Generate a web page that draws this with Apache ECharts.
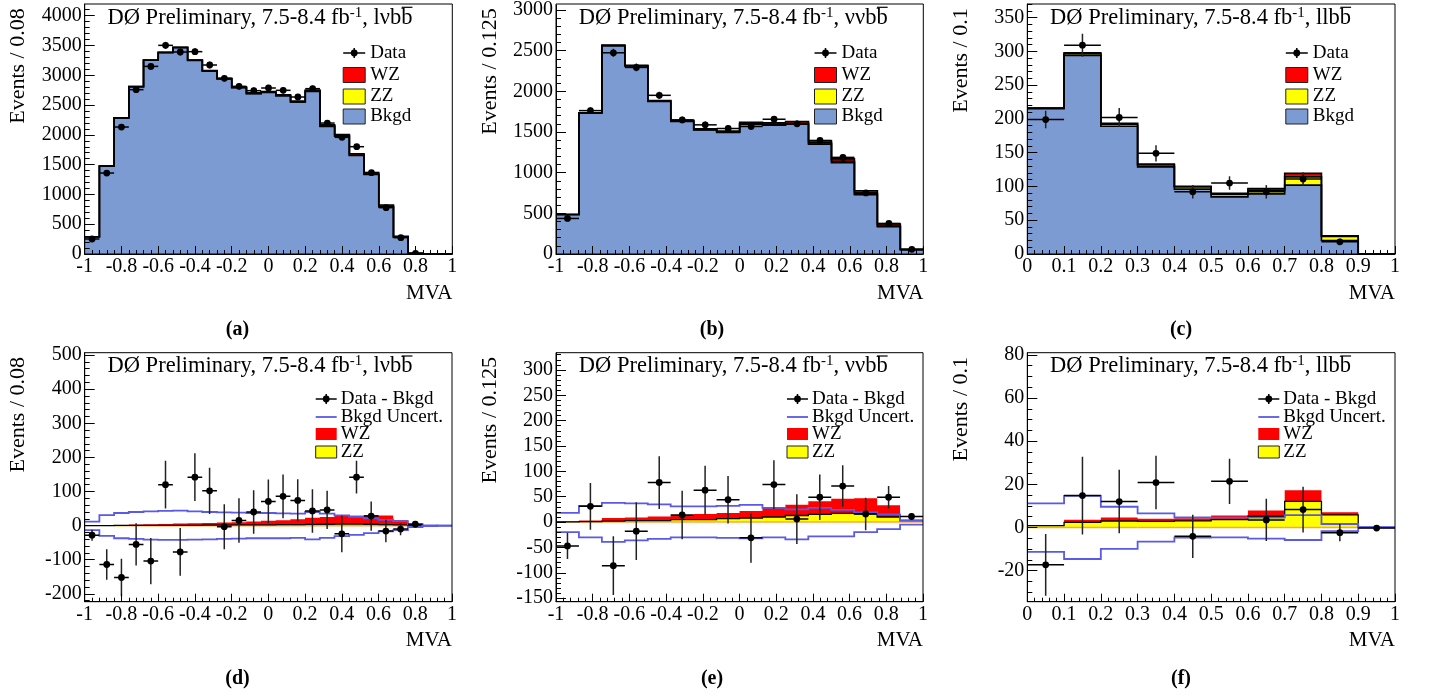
<!DOCTYPE html>
<html><head><meta charset="utf-8">
<script src="https://cdn.jsdelivr.net/npm/echarts@6/dist/echarts.min.js"></script>
<style>html,body{margin:0;padding:0;background:#fff}#c{width:1439px;height:696px}</style>
</head><body><div id="c"></div>
<script>
// ================= DATA =================
// bin edges (categories)
const edgesLvbb = [-1,-0.92,-0.84,-0.76,-0.68,-0.6,-0.52,-0.44,-0.36,-0.28,-0.2,-0.12,-0.04,0.04,0.12,0.2,0.28,0.36,0.44,0.52,0.6,0.68,0.76,0.84,0.92,1];
const edgesVvbb = [-1,-0.875,-0.75,-0.625,-0.5,-0.375,-0.25,-0.125,0,0.125,0.25,0.375,0.5,0.625,0.75,0.875,1];
const edgesLlbb = [0,0.1,0.2,0.3,0.4,0.5,0.6,0.7,0.8,0.9,1];

// l nu b b
const dataLvbb    = [252,1359,2131,2758,3149,3502,3390,3396,3172,2948,2814,2741,2786,2747,2635,2775,2198,1958,1801,1365,778,274,12,null,null];
const dataErrLvbb = [16,37,46,53,56,59,58,58,56,54,53,52,53,52,51,53,47,44,42,37,28,17,4,0,0];
const bkgdLvbb    = [290,1475,2284,2808,3252,3380,3464,3250,3069,2940,2793,2692,2712,2656,2550,2730,2142,1978,1654,1335,793,280,8,0,0];
const zzLvbb      = [0,0,0.5,0.5,1,1,1,1,1.5,1.5,2,2,2.5,3,3,3.5,4,4.5,4.5,4,3,2,0.5,0,0];
const wzLvbb      = [0,0,1.5,2.5,3,4,5,6,6.5,7.5,8,10,11.5,13,16,19.5,21,23.5,24.5,27,27,14,2.5,0,0];
const diffLvbb    = [-28,-114,-152,-55,-104,120,-77,142,102,-3,15,40,71,86,74,43,46,-24,142,28,-16,-10,4,null,null];
const diffErrLvbb = [16,45,55,62,68,70,70,70,68,66,65,64,64,64,62,64,56,54,48,43,33,18,3,0,0];
const uncUpLvbb   = [12,31,37,40,42,43,44,42,40,39,38,37,37,36,35,40,35,30,26,21,17,13,4,1,0];
const uncLoLvbb   = [-13,-30,-37,-39,-41,-42,-42,-41,-40,-39,-38,-37,-37,-37,-36,-40,-36,-31,-27,-22,-17,-13,-4,-1,0];

// nu nu b b
const dataVvbb    = [437,1763,2474,2294,1951,1649,1588,1543,1568,1657,1600,1396,1188,751,376,57];
const dataErrVvbb = [21,42,50,48,44,41,40,39,40,41,40,37,34,27,19,8];
const bkgdVvbb    = [485,1734,2560,2311,1876,1629,1524,1493,1596,1584,1595,1351,1124,730,335,52];
const zzVvbb      = [0.5,1,2,3,3,5,5,7,8,10,13,15,17,16,10,3];
const wzVvbb      = [0.5,2,6,6,8,9,11,11,14,18,21,26,29,31,23,2];
const diffVvbb    = [-47,31,-86,-18,78,14,63,44,-31,74,6,49,71,16,49,11];
const diffErrVvbb = [26,46,58,57,52,48,48,47,49,48,49,45,41,32,22,7];
const uncUpVvbb   = [18,32,38,37,35,31,31,32,34,28,25,28,24,19,15,3];
const uncLoVvbb   = [-20,-30,-39,-36,-33,-30,-30,-31,-32,-30,-34,-28,-28,-20,-14,-5];

// l l b b
const dataLlbb    = [199,309,202,149,92,105,92,111,18,null];
const dataErrLlbb = [13,17,14,12,10,10,10,10,4.5,0];
const bkgdLlbb    = [215,294,189,129,96,84.5,89,102,20,0];
const zzLlbb      = [0.9,2.4,3.0,2.8,3.1,3.6,5.2,12.1,5.8,0];
const wzLlbb      = [0.1,1.2,1.6,1.3,1.2,1.9,2.7,5.2,1.3,0];
const diffLlbb    = [-17.3,14.8,12,20.8,-4.1,21.4,3.5,8.3,-2.4,-0.3];
const diffErrLlbb = [14.3,18,14.7,12.4,10,10.5,9.8,10.6,4,0];
const uncUpLlbb   = [11.2,14.6,9.6,6.5,4.7,4.6,4.6,5.7,1.6,0];
const uncLoLlbb   = [-11.3,-14.6,-9.9,-6.6,-4.7,-4.6,-5.2,-5.8,-1.7,0];

// tick labels
const xTicksSym  = [-1,-0.8,-0.6,-0.4,-0.2,0,0.2,0.4,0.6,0.8,1];
const xTicksUnit = [0,0.1,0.2,0.3,0.4,0.5,0.6,0.7,0.8,0.9,1];
const yTicksA = [0,500,1000,1500,2000,2500,3000,3500,4000];
const yTicksB = [0,500,1000,1500,2000,2500,3000];
const yTicksC = [0,50,100,150,200,250,300,350];
const yTicksD = [-200,-100,0,100,200,300,400,500];
const yTicksE = [-150,-100,-50,0,50,100,150,200,250,300];
const yTicksF = [-20,0,20,40,60,80];

// ================= LAYOUT / STYLE =================
const FONT = 'Liberation Serif';
const C_BKGD = '#7b9bd2', C_ZZ = '#ffff00', C_WZ = '#ff0000', C_UNC = '#5a5ae6';

const layout = [
  {left:84.7, top:4, w:367.6, h:250},
  {left:556, top:4, w:367.3, h:250},
  {left:1027.3, top:4, w:367.7, h:250},
  {left:84.7, top:352.7, w:367.3, h:249},
  {left:556, top:352.7, w:367, h:249},
  {left:1027.3, top:352.7, w:367.7, h:249}
];

const panels = [
  {type:'stack', edges:edgesLvbb, bkgd:bkgdLvbb, zz:zzLvbb, wz:wzLvbb, data:dataLvbb, err:dataErrLvbb,
   x:[-1,1], xt:xTicksSym, xm:0.04, y:[0,4196], yt:yTicksA, ym:100, ytitle:'Events / 0.08', chan:'l\u03bd', tag:'(a)', tagX:237.5, ytx:18.3},
  {type:'stack', edges:edgesVvbb, bkgd:bkgdVvbb, zz:zzVvbb, wz:wzVvbb, data:dataVvbb, err:dataErrVvbb,
   x:[-1,1], xt:xTicksSym, xm:0.04, y:[0,3061], yt:yTicksB, ym:100, ytitle:'Events / 0.125', chan:'\u03bd\u03bd', tag:'(b)', tagX:712, ytx:490},
  {type:'stack', edges:edgesLlbb, bkgd:bkgdLlbb, zz:zzLlbb, wz:wzLlbb, data:dataLlbb, err:dataErrLlbb,
   x:[0,1], xt:xTicksUnit, xm:0.02, y:[0,370], yt:yTicksC, ym:10, ytitle:'Events / 0.1', chan:'ll', tag:'(c)', tagX:1181, ytx:961.7},
  {type:'diff', edges:edgesLvbb, diff:diffLvbb, err:diffErrLvbb, up:uncUpLvbb, lo:uncLoLvbb, zz:zzLvbb, wz:wzLvbb,
   x:[-1,1], xt:xTicksSym, xm:0.04, y:[-223,507], yt:yTicksD, ym:20, ytitle:'Events / 0.08', chan:'l\u03bd', tag:'(d)', tagX:237.5, ytx:18.3},
  {type:'diff', edges:edgesVvbb, diff:diffVvbb, err:diffErrVvbb, up:uncUpVvbb, lo:uncLoVvbb, zz:zzVvbb, wz:wzVvbb,
   x:[-1,1], xt:xTicksSym, xm:0.04, y:[-157,334], yt:yTicksE, ym:10, ytitle:'Events / 0.125', chan:'\u03bd\u03bd', tag:'(e)', tagX:712, ytx:490},
  {type:'diff', edges:edgesLlbb, diff:diffLlbb, err:diffErrLlbb, up:uncUpLlbb, lo:uncLoLlbb, zz:zzLlbb, wz:wzLlbb,
   x:[0,1], xt:xTicksUnit, xm:0.02, y:[-34.4,81], yt:yTicksF, ym:5, ytitle:'Events / 0.1', chan:'ll', tag:'(f)', tagX:1181, ytx:961.7}
];

// ================= HELPERS =================
function minorTicks(min, max, step, majors) {
  const out = [];
  const k0 = Math.ceil(min / step - 1e-9), k1 = Math.floor(max / step + 1e-9);
  for (let k = k0; k <= k1; k++) {
    const v = +(k * step).toFixed(6);
    if (!majors.some(m => Math.abs(m - v) < 1e-9)) out.push(v);
  }
  return out;
}
const ctx = document.createElement('canvas').getContext('2d');
function tw(text, size, bold) { ctx.font = (bold ? 'bold ' : '') + size + 'px "' + FONT + '"'; return ctx.measureText(text).width; }
function fontStr(size, bold) { return (bold ? 'bold ' : 'normal ') + size + 'px "' + FONT + '"'; }
function txt(x, y, text, size, o) {
  o = o || {};
  return {type:'text', x:x, y:y, z:100, rotation:o.rot || 0, silent:true,
    style:{text:text, fill:'#000', font:fontStr(size, o.bold), align:o.align || 'left', verticalAlign:o.va || 'middle'}};
}

// one polygon per stacked component (no seams between bins)
function fillSeries(gi, edges, lo, hi, color, bottomLine) {
  const items = edges.slice(0, -1).map((e, i) => [e, edges[i + 1], lo[i], hi[i]]);
  return {type:'custom', coordinateSystem:'cartesian2d', xAxisIndex:2 * gi, yAxisIndex:2 * gi, clip:true, silent:true, z:2,
    data:items, encode:{x:[0, 1], y:[2, 3]},
    renderItem:function (p, api) {
      if (p.dataIndex !== 0) return null;
      const pts = [];
      items.forEach(it => { pts.push(api.coord([it[0], it[3]])); pts.push(api.coord([it[1], it[3]])); });
      for (let k = items.length - 1; k >= 0; k--) { const it = items[k]; pts.push(api.coord([it[1], it[2]])); pts.push(api.coord([it[0], it[2]])); }
      const ch = [{type:'polygon', shape:{points:pts}, style:{fill:color}}];
      if (bottomLine) {
        items.forEach(it => {
          if (it[3] !== it[2]) {
            const a = api.coord([it[0], it[2]]), b = api.coord([it[1], it[2]]);
            ch.push({type:'line', shape:{x1:a[0], y1:a[1], x2:b[0], y2:b[1]}, style:{stroke:bottomLine, lineWidth:1.5}});
          }
        });
      }
      return {type:'group', children:ch};
    }};
}
function stepSeries(gi, edges, vals, color, width, z) {
  const items = edges.slice(0, -1).map((e, i) => [e, edges[i + 1], vals[i], i < vals.length - 1 ? vals[i + 1] : vals[i]]);
  return {type:'custom', coordinateSystem:'cartesian2d', xAxisIndex:2 * gi, yAxisIndex:2 * gi, clip:true, silent:true, z:z,
    data:items, encode:{x:[0, 1], y:[2, 3]},
    renderItem:function (p, api) {
      if (p.dataIndex !== 0) return null;
      const pts = [];
      items.forEach((it, k) => {
        pts.push(api.coord([it[0], it[2]]));
        pts.push(api.coord([it[1], it[2]]));
      });
      return {type:'polyline', shape:{points:pts}, style:{stroke:color, lineWidth:width, fill:null, lineJoin:'miter'}};
    }};
}
function pointSeries(gi, edges, vals, errs) {
  const items = [];
  vals.forEach((v, i) => { if (v !== null) items.push([edges[i], edges[i + 1], v, errs[i]]); });
  return {type:'custom', coordinateSystem:'cartesian2d', xAxisIndex:2 * gi, yAxisIndex:2 * gi, clip:true, silent:true, z:6,
    data:items, encode:{x:[0, 1], y:[2]},
    renderItem:function (p, api) {
      const lo = api.value(0), hi = api.value(1), v = api.value(2), e = api.value(3), m = (lo + hi) / 2;
      const l = api.coord([lo, v]), r = api.coord([hi, v]), c = api.coord([m, v]);
      const u = api.coord([m, v + e]), d = api.coord([m, v - e]);
      return {type:'group', children:[
        {type:'line', shape:{x1:u[0], y1:u[1], x2:d[0], y2:d[1]}, style:{stroke:'#222', lineWidth:1.5}},
        {type:'line', shape:{x1:l[0], y1:l[1], x2:r[0], y2:r[1]}, style:{stroke:'#000', lineWidth:1.5}},
        {type:'circle', shape:{cx:c[0], cy:c[1], r:3.4}, style:{fill:'#000'}}
      ]};
    }};
}

// ================= BUILD =================
const grids = [], xAxes = [], yAxes = [], series = [], graphics = [];
panels.forEach((P, gi) => {
  const G = layout[gi];
  grids.push({left:G.left, top:G.top, width:G.w, height:G.h, show:false, containLabel:false});
  const xMin = minorTicks(P.x[0], P.x[1], P.xm, P.xt);
  const yMin = minorTicks(P.y[0], P.y[1], P.ym, P.yt);
  const lab = {show:true, fontFamily:FONT, fontSize:20, color:'#000', showMinLabel:true, showMaxLabel:true, formatter:v => String(v)};
  xAxes.push({type:'value', gridIndex:gi, min:P.x[0], max:P.x[1], position:'bottom', z:10,
    axisLine:{show:true, onZero:false, lineStyle:{color:'#000', width:1}},
    axisTick:{show:true, inside:true, length:8, customValues:P.xt, lineStyle:{color:'#000', width:1}},
    axisLabel:Object.assign({}, lab, {customValues:P.xt, margin:3}),
    splitLine:{show:false}, minorTick:{show:false}});
  xAxes.push({type:'value', gridIndex:gi, min:P.x[0], max:P.x[1], position:'bottom', z:10,
    axisLine:{show:false, onZero:false},
    axisTick:{show:true, inside:true, length:4, customValues:xMin, lineStyle:{color:'#000', width:1}},
    axisLabel:{show:false}, splitLine:{show:false}});
  yAxes.push({type:'value', gridIndex:gi, min:P.y[0], max:P.y[1], position:'left', z:10,
    axisLine:{show:true, onZero:false, lineStyle:{color:'#000', width:1}},
    axisTick:{show:true, inside:true, length:10, customValues:P.yt, lineStyle:{color:'#000', width:1}},
    axisLabel:Object.assign({}, lab, {customValues:P.yt, margin:3}),
    splitLine:{show:false}, minorTick:{show:false}});
  yAxes.push({type:'value', gridIndex:gi, min:P.y[0], max:P.y[1], position:'left', z:10,
    axisLine:{show:false, onZero:false},
    axisTick:{show:true, inside:true, length:5, customValues:yMin, lineStyle:{color:'#000', width:1}},
    axisLabel:{show:false}, splitLine:{show:false}});

  const zeros = P.edges.slice(0, -1).map(() => 0);
  if (P.type === 'stack') {
    const s1 = P.bkgd.slice();
    const s2 = s1.map((v, i) => v + P.zz[i]);
    const s3 = s2.map((v, i) => v + P.wz[i]);
    series.push(fillSeries(gi, P.edges, zeros, s1, C_BKGD));
    series.push(fillSeries(gi, P.edges, s1, s2, C_ZZ));
    series.push(fillSeries(gi, P.edges, s2, s3, C_WZ));
    series.push(stepSeries(gi, P.edges, s1, '#000', 1.6, 3));
    series.push(stepSeries(gi, P.edges, s2, '#000', 1.6, 3));
    series.push(stepSeries(gi, P.edges, s3, '#000', 1.6, 3));
    series.push(pointSeries(gi, P.edges, P.data, P.err));
  } else {
    const t = P.zz.map((v, i) => v + P.wz[i]);
    series.push(fillSeries(gi, P.edges, zeros, P.zz, C_ZZ, '#f6a849'));
    series.push(fillSeries(gi, P.edges, P.zz, t, C_WZ));
    series.push(stepSeries(gi, P.edges, P.zz, '#000', 1.3, 3));
    series.push(stepSeries(gi, P.edges, P.up, C_UNC, 1.8, 4));
    series.push(stepSeries(gi, P.edges, P.lo, C_UNC, 1.8, 4));
    series.push(pointSeries(gi, P.edges, P.diff, P.err));
  }

  // frame
  graphics.push({type:'rect', z:100, silent:true, shape:{x:G.left, y:G.top, width:G.w, height:G.h}, style:{fill:null, stroke:'#000', lineWidth:1}});
  // title
  const TS = 22.5;
  const tx = G.left + 22.8, ty = G.top + 13.8;
  const main = 'D\u00d8 Preliminary, 7.5-8.4 fb';
  const w1 = tw(main, TS), ws = tw('-1', 15);
  const rest = ', ' + P.chan + 'bb';
  graphics.push(txt(tx, ty, main, TS));
  graphics.push(txt(tx + w1, ty - 5, '-1', 15));
  graphics.push(txt(tx + w1 + ws, ty, rest, TS));
  const ox = tx + w1 + ws + tw(', ' + P.chan + 'b', TS), ow = tw('b', TS);
  graphics.push({type:'line', z:100, silent:true, shape:{x1:ox + 0.5, y1:ty - 10.5, x2:ox + ow, y2:ty - 10.5}, style:{stroke:'#000', lineWidth:1.2}});
  // y title
  graphics.push(txt(P.ytx, G.top + 4.3, P.ytitle, 22, {rot:Math.PI / 2, align:'right'}));
  // MVA
  graphics.push(txt(G.left + G.w, G.top + G.h + 39, 'MVA', 21, {align:'right'}));
  // panel tag
  graphics.push(txt(P.tagX, G.top + 326, P.tag, 20, {bold:true, align:'center'}));
  // legend
  if (P.type === 'stack') {
    const lx = G.left + 258.5, tX = G.left + 285.5;
    const rows = [49, 71, 92.5, 112.5].map(r => G.top + r);
    graphics.push({type:'line', z:100, silent:true, shape:{x1:lx, y1:rows[0], x2:lx + 22, y2:rows[0]}, style:{stroke:'#000', lineWidth:1.5}});
    graphics.push({type:'line', z:100, silent:true, shape:{x1:lx + 11, y1:rows[0] - 5, x2:lx + 11, y2:rows[0] + 5}, style:{stroke:'#000', lineWidth:1.5}});
    graphics.push({type:'circle', z:100, silent:true, shape:{cx:lx + 11, cy:rows[0], r:3.4}, style:{fill:'#000'}});
    graphics.push(txt(tX, rows[0], 'Data', 19));
    [[C_WZ, 'WZ'], [C_ZZ, 'ZZ'], [C_BKGD, 'Bkgd']].forEach((it, k) => {
      const ry = rows[k + 1];
      graphics.push({type:'rect', z:100, silent:true, shape:{x:lx, y:ry - 7.5, width:22, height:15}, style:{fill:it[0], stroke:'#222', lineWidth:1}});
      graphics.push(txt(tX, ry, it[1], 19));
    });
  } else {
    const lx = G.left + 231, tX = G.left + 256;
    const rows = [46.3, 64.3, 81.3, 99.3].map(r => G.top + r);
    graphics.push({type:'line', z:100, silent:true, shape:{x1:lx, y1:rows[0], x2:lx + 21, y2:rows[0]}, style:{stroke:'#000', lineWidth:1.5}});
    graphics.push({type:'line', z:100, silent:true, shape:{x1:lx + 10.5, y1:rows[0] - 5, x2:lx + 10.5, y2:rows[0] + 5}, style:{stroke:'#000', lineWidth:1.5}});
    graphics.push({type:'circle', z:100, silent:true, shape:{cx:lx + 10.5, cy:rows[0], r:3.4}, style:{fill:'#000'}});
    graphics.push(txt(tX, rows[0], 'Data - Bkgd', 19));
    graphics.push({type:'line', z:100, silent:true, shape:{x1:lx, y1:rows[1], x2:lx + 21, y2:rows[1]}, style:{stroke:C_UNC, lineWidth:1.8}});
    graphics.push(txt(tX, rows[1], 'Bkgd Uncert.', 19));
    graphics.push({type:'rect', z:100, silent:true, shape:{x:lx, y:rows[2] - 6, width:21, height:12}, style:{fill:C_WZ}});
    graphics.push(txt(tX, rows[2], 'WZ', 19));
    graphics.push({type:'rect', z:100, silent:true, shape:{x:lx, y:rows[3] - 6, width:21, height:12}, style:{fill:C_ZZ, stroke:'#222', lineWidth:1}});
    graphics.push(txt(tX, rows[3], 'ZZ', 19));
  }
});

const chart = echarts.init(document.getElementById('c'), null, {renderer:'canvas'});
chart.setOption({animation:false, backgroundColor:'#fff', grid:grids, xAxis:xAxes, yAxis:yAxes, series:series, graphic:{elements:graphics}});
</script></body></html>
